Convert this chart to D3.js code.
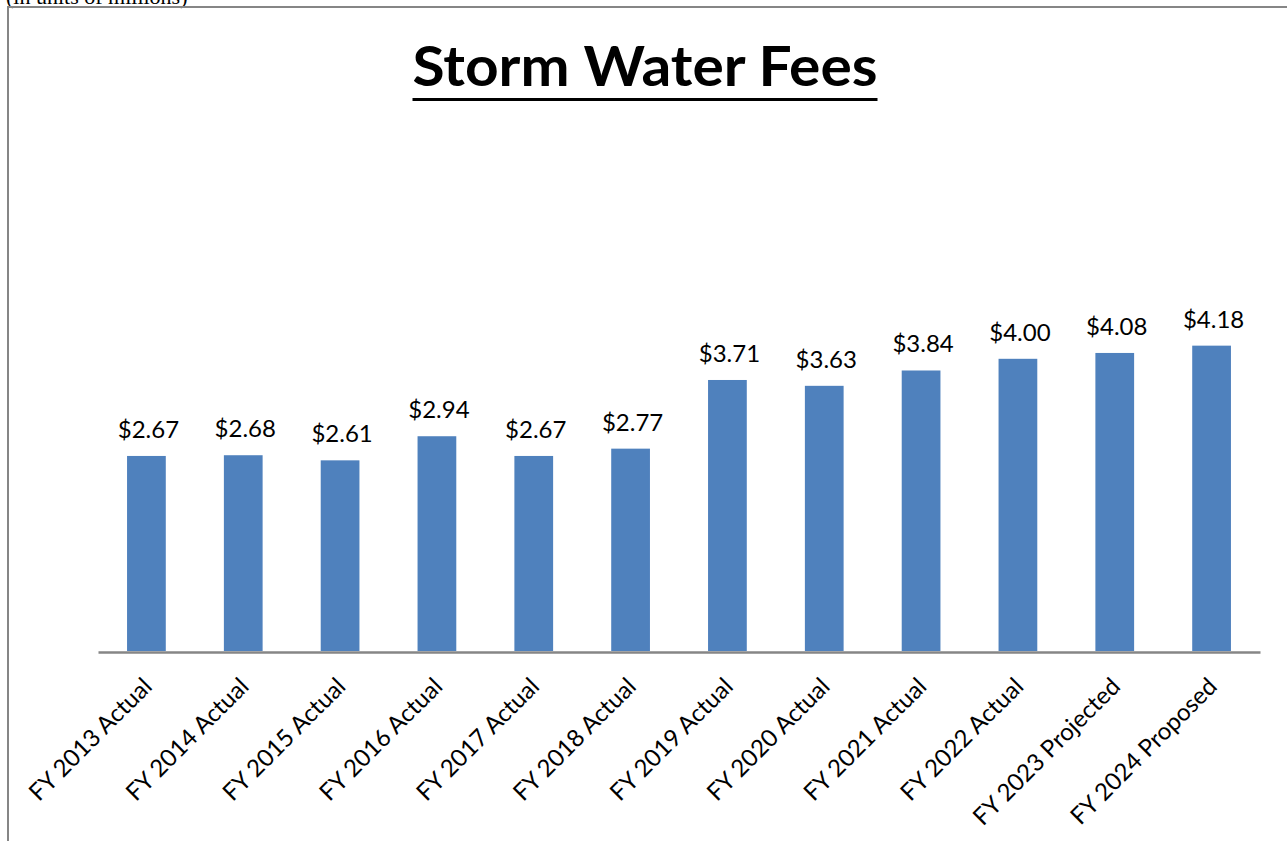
<!DOCTYPE html>
<html>
<head>
<meta charset="utf-8">
<script src="https://cdn.jsdelivr.net/npm/d3@7"></script>
<style>
  body { margin: 0; background: #fff; }
  svg { display: block; }
</style>
</head>
<body>
<svg id="chart" width="1287" height="841"></svg>
<script>
const categories = [
  "FY 2013 Actual", "FY 2014 Actual", "FY 2015 Actual", "FY 2016 Actual",
  "FY 2017 Actual", "FY 2018 Actual", "FY 2019 Actual", "FY 2020 Actual",
  "FY 2021 Actual", "FY 2022 Actual", "FY 2023 Projected", "FY 2024 Proposed"
];
const fees = [2.67, 2.68, 2.61, 2.94, 2.67, 2.77, 3.71, 3.63, 3.84, 4.00, 4.08, 4.18];
const titleText = "Storm Water Fees";
const noteText = "(in units of millions)";

const font = "Lato, 'Open Sans', sans-serif";
const barColor = "#4f81bd";
const axisColor = "#868686";

const svg = d3.select("#chart");
const width = +svg.attr("width");

// note above the frame, clipped by the top edge as in the source
svg.append("text")
  .attr("x", 6)
  .attr("y", 3.5)
  .attr("font-family", "'Liberation Serif', 'Times New Roman', serif")
  .attr("font-size", 22)
  .attr("fill", "#000")
  .text(noteText);

// chart frame, runs off right and bottom edges
svg.append("rect")
  .attr("x", 8)
  .attr("y", 7)
  .attr("width", width + 20)
  .attr("height", 900)
  .attr("fill", "none")
  .attr("stroke", axisColor)
  .attr("stroke-width", 2);

// title
const titleW = 465;
svg.append("text")
  .attr("x", 645)
  .attr("y", 86)
  .attr("text-anchor", "middle")
  .attr("font-family", font)
  .attr("font-weight", "bold")
  .attr("font-size", 56)
  .attr("textLength", titleW)
  .attr("lengthAdjust", "spacingAndGlyphs")
  .attr("fill", "#000")
  .text(titleText);

svg.append("line")
  .attr("x1", 645 - titleW / 2)
  .attr("x2", 645 + titleW / 2)
  .attr("y1", 99.5)
  .attr("y2", 99.5)
  .attr("stroke", "#000")
  .attr("stroke-width", 3);

const x = d3.scaleBand()
  .domain(categories)
  .range([98, 1260])
  .paddingInner(0.6)
  .paddingOuter(0.3);

const y = d3.scaleLinear()
  .domain([0, 6])
  .range([651, 651 - 6 * 73.05]);

const g = svg.append("g");

g.selectAll("rect.bar")
  .data(fees)
  .join("rect")
  .attr("class", "bar")
  .attr("x", (d, i) => x(categories[i]))
  .attr("width", x.bandwidth())
  .attr("y", d => y(d))
  .attr("height", d => y(0) - y(d))
  .attr("fill", barColor);

g.selectAll("text.value")
  .data(fees)
  .join("text")
  .attr("class", "value")
  .attr("x", (d, i) => x(categories[i]) + x.bandwidth() / 2 + 2)
  .attr("y", d => y(d) - 18)
  .attr("text-anchor", "middle")
  .attr("font-family", font)
  .attr("font-size", 24)
  .attr("fill", "#000")
  .text(d => "$" + d.toFixed(2));

// category axis
const xAxis = g.append("g")
  .attr("transform", `translate(0,${y(0)})`)
  .call(d3.axisBottom(x).tickSize(0).tickSizeOuter(0));

xAxis.select(".domain")
  .attr("stroke", axisColor)
  .attr("stroke-width", 2.5)
  .attr("transform", "translate(0,1)");

xAxis.selectAll(".tick text")
  .attr("font-family", font)
  .attr("font-size", 24)
  .attr("fill", "#000")
  .attr("text-anchor", "end")
  .attr("dy", null)
  .attr("y", null)
  .attr("transform", "translate(7,37) rotate(-45)");
</script>
</body>
</html>
